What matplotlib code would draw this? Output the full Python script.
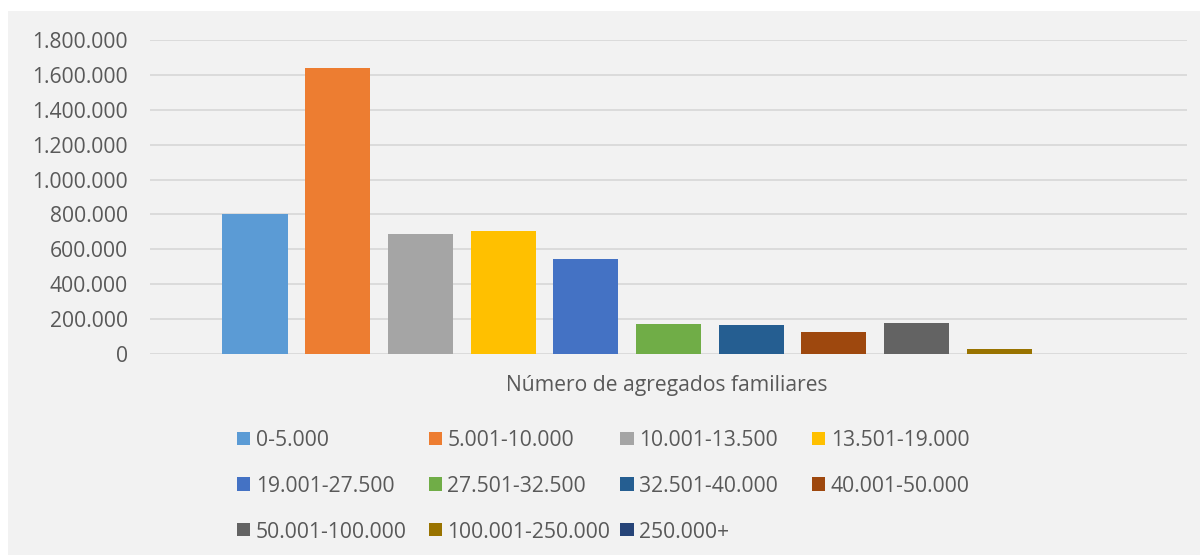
import matplotlib
matplotlib.use("Agg")
import matplotlib.pyplot as plt
from matplotlib.patches import Rectangle
from matplotlib.ticker import FuncFormatter

categories = ["0-5.000", "5.001-10.000", "10.001-13.500", "13.501-19.000",
              "19.001-27.500", "27.501-32.500", "32.501-40.000", "40.001-50.000",
              "50.001-100.000", "100.001-250.000", "250.000+"]
values = [803000, 1640000, 689000, 705000, 545000, 172000, 167000, 127000, 178000, 29000, 0]
colors = ["#5B9BD5", "#ED7D31", "#A5A5A5", "#FFC000", "#4472C4", "#70AD47",
          "#255E91", "#9E480E", "#636363", "#997300", "#264478"]
xlabel = "Número de agregados familiares"
yticks = [0, 200000, 400000, 600000, 800000, 1000000, 1200000, 1400000, 1600000, 1800000]

plt.rcParams['font.family'] = ['Open Sans', 'DejaVu Sans']
TXT = "#595959"
FS = 15.2
W, H = 1200, 555
fig = plt.figure(figsize=(W/100, H/100), dpi=100)
fig.patch.set_facecolor("white")
fig.patches.append(Rectangle((8/W, 0), 1 - 8/W, 1 - 11/H, transform=fig.transFigure,
                             facecolor="#F2F2F2", edgecolor="none", zorder=-5))

ax = fig.add_axes([150/W, 1 - 354/H, (1187-150)/W, (354-40)/H])
ax.set_facecolor("none")
ax.set_zorder(2)
for i, (v, c, lab) in enumerate(zip(values, colors, categories)):
    ax.bar(i, v, width=0.787, color=c, label=lab, zorder=3)

ax.set_xlim(-105/82.7, (1037-105)/82.7)
ax.set_ylim(0, 1800000)
ax.set_yticks(yticks)
ax.yaxis.set_major_formatter(FuncFormatter(lambda v, p: f"{int(v):,}".replace(",", ".")))
ax.tick_params(axis='y', length=0, pad=16, labelsize=FS, labelcolor=TXT)
ax.set_xticks([])
ax.grid(axis='y', color="#D9D9D9", linewidth=1.3, zorder=0)
for s in ax.spines.values():
    s.set_visible(False)

fig.text(667/W, 1 - 391/H, xlabel, fontsize=FS, color=TXT, ha="center", va="baseline")

# legend: Excel-style uniform grid, row-major
col_x0, col_w = 237, 191.7
row_y = [438.5, 484, 529.5]
sq = 13.3
for i, (lab, c) in enumerate(zip(categories, colors)):
    r, k = divmod(i, 4)
    x = col_x0 + k * col_w
    y = row_y[r]
    fig.patches.append(Rectangle((x/W, 1 - (y + sq/2)/H), sq/W, sq/H,
                                 transform=fig.transFigure, facecolor=c,
                                 edgecolor="none", zorder=3))
    fig.text((x + sq + 5.5)/W, 1 - y/H, lab, fontsize=FS, color=TXT,
             ha="left", va="center_baseline")

fig.savefig("out.png", dpi=100, facecolor=fig.get_facecolor())
